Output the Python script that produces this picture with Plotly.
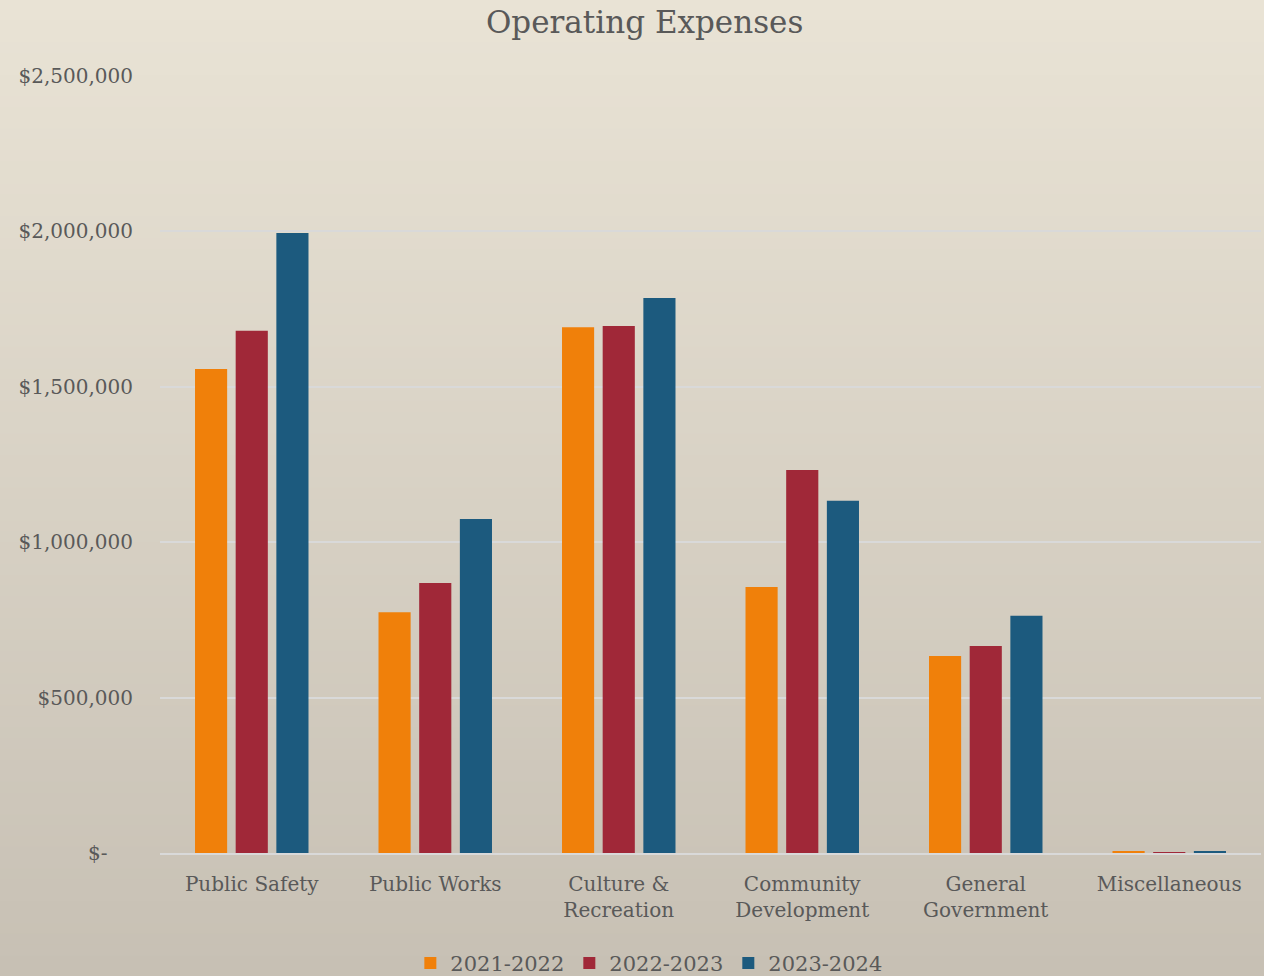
import plotly.graph_objects as go

# Operating expense data by department and fiscal year
categories = ["Public Safety", "Public Works", "Culture &<br>Recreation",
              "Community<br>Development", "General<br>Government", "Miscellaneous"]
fy_2021_22 = [1557000, 775000, 1692000, 856000, 634000, 4000]
fy_2022_23 = [1680000, 869000, 1696000, 1232000, 666000, 3000]
fy_2023_24 = [1995000, 1075000, 1786000, 1133000, 763000, 4000]
series_names = ["2021-2022", "2022-2023", "2023-2024"]
series_colors = ["#F0800A", "#A02838", "#1C5A7E"]

tick_values = [0, 500000, 1000000, 1500000, 2000000, 2500000]
tick_labels = ["$-\u00a0\u00a0\u00a0\u00a0", "$500,000", "$1,000,000", "$1,500,000",
               "$2,000,000", "$2,500,000"]

FONT = "DejaVu Serif, Liberation Serif, serif"
TEXT = "#595959"

fig = go.Figure()
for name, vals, col in zip(series_names, [fy_2021_22, fy_2022_23, fy_2023_24], series_colors):
    fig.add_trace(go.Bar(x=categories, y=vals, name=name, marker_color=col,
                         marker_line_width=0))

# vertical background gradient made of thin bands
top_rgb = (233, 227, 213)
bot_rgb = (199, 192, 180)
n_bands = 90
y_lo, y_hi = -0.16, 1.1
shapes = []
for i in range(n_bands):
    t = i / (n_bands - 1)
    r = round(bot_rgb[0] + (top_rgb[0] - bot_rgb[0]) * t)
    g = round(bot_rgb[1] + (top_rgb[1] - bot_rgb[1]) * t)
    b = round(bot_rgb[2] + (top_rgb[2] - bot_rgb[2]) * t)
    y0 = y_lo + (y_hi - y_lo) * i / n_bands
    y1 = y_lo + (y_hi - y_lo) * (i + 1) / n_bands + 0.002
    if i == 0:
        y0 = -0.5
    if i == n_bands - 1:
        y1 = 1.5
    shapes.append(dict(type="rect", xref="paper", yref="paper", x0=-0.3, x1=1.1,
                       y0=y0, y1=y1, fillcolor=f"rgb({r},{g},{b})",
                       line_width=0, layer="below"))

fig.update_layout(
    width=1264, height=976,
    margin=dict(l=160, r=3, t=76, b=123, autoexpand=False),
    paper_bgcolor="rgb(216,209,196)",
    plot_bgcolor="rgba(0,0,0,0)",
    shapes=shapes,
    barmode="group", bargap=0.335, bargroupgap=0.21,
    title=dict(text="Operating Expenses", x=0.51, xanchor="center", y=0.977,
               yanchor="middle", font=dict(family=FONT, size=31, color=TEXT)),
    font=dict(family=FONT, size=20, color=TEXT),
    legend=dict(orientation="h", x=0.444, xanchor="center", y=-0.142, yanchor="middle",
                font=dict(family=FONT, size=21, color=TEXT),
                itemwidth=30, traceorder="normal", bgcolor="rgba(0,0,0,0)"),
    showlegend=True,
)
fig.update_xaxes(showgrid=False, showline=True, linecolor="#D9D9D9", linewidth=2,
                 tickfont=dict(family=FONT, size=20, color=TEXT), ticks="",
                 ticklabelstandoff=12)
fig.update_yaxes(range=[0, 2500000], tickvals=tick_values, ticktext=tick_labels,
                 showgrid=True, gridcolor="#D9D9D9", gridwidth=2, zeroline=False,
                 tickfont=dict(family=FONT, size=20, color=TEXT),
                 ticks="", ticklabelstandoff=26)

fig.write_html("out.html")
